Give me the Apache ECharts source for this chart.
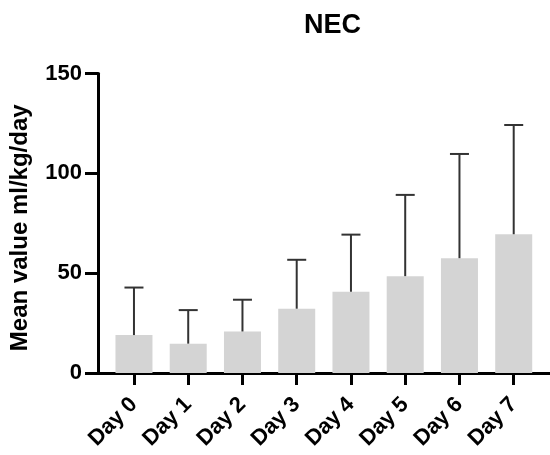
<!DOCTYPE html>
<html>
<head>
<meta charset="utf-8">
<script src="https://cdn.jsdelivr.net/npm/echarts@6/dist/echarts.min.js"></script>
<style>
  html, body { margin: 0; padding: 0; background: #fff; }
  #chart { width: 550px; height: 455px; }
</style>
</head>
<body>
<div id="chart"></div>
<script>
// Mean daily volume (ml/kg/day) with upper SD, days 0-7
const days = ['Day 0', 'Day 1', 'Day 2', 'Day 3', 'Day 4', 'Day 5', 'Day 6', 'Day 7'];
const meanValues = [19, 14.7, 20.8, 32.2, 40.7, 48.5, 57.5, 69.5];
const sdValues = [23.8, 16.8, 15.9, 24.5, 28.6, 40.7, 52.2, 54.7];
const yTicks = [0, 50, 100, 150];

const FONT = '"Liberation Sans", Arial, sans-serif';
const dayIndex = days.map((d, i) => i);

const chart = echarts.init(document.getElementById('chart'), null, { renderer: 'canvas' });

chart.setOption({
  animation: false,
  backgroundColor: '#ffffff',
  title: {
    text: 'NEC',
    left: 299,
    top: 7,
    textStyle: { fontFamily: FONT, fontSize: 27, fontWeight: 'bold', color: '#000' }
  },
  grid: { left: 97.5, right: 0, top: 73.5, bottom: 82 },
  xAxis: {
    type: 'value',
    min: -0.663,
    max: 7.669,
    splitLine: { show: false },
    axisLine: { show: true, onZero: false, lineStyle: { color: '#000', width: 3 } },
    axisTick: { show: true, customValues: dayIndex, length: 12, lineStyle: { color: '#000', width: 3 } },
    axisLabel: {
      customValues: dayIndex,
      rotate: 45,
      margin: 28,
      fontFamily: FONT,
      fontSize: 22,
      fontWeight: 'bold',
      color: '#000',
      formatter: v => days[v]
    }
  },
  yAxis: {
    type: 'value',
    min: yTicks[0],
    max: yTicks[yTicks.length - 1],
    interval: yTicks[1] - yTicks[0],
    name: 'Mean value ml/kg/day',
    nameLocation: 'middle',
    nameGap: 66,
    nameTextStyle: { fontFamily: FONT, fontSize: 24, fontWeight: 'bold', color: '#000', padding: [0, 9, 0, 0] },
    splitLine: { show: false },
    axisLine: { show: true, onZero: false, lineStyle: { color: '#000', width: 3 } },
    axisTick: { show: true, length: 13, lineStyle: { color: '#000', width: 3 } },
    axisLabel: { margin: 16, fontFamily: FONT, fontSize: 22, fontWeight: 'bold', color: '#000' }
  },
  series: [
    {
      type: 'bar',
      barWidth: 37,
      itemStyle: { color: '#d4d4d4' },
      data: meanValues.map((v, i) => [i, v]),
      z: 2
    },
    {
      type: 'custom',
      z: 3,
      data: meanValues.map((v, i) => [i, v, sdValues[i]]),
      renderItem: function (params, api) {
        const x = api.value(0);
        const mean = api.value(1);
        const sd = api.value(2);
        const base = api.coord([x, mean]);
        const top = api.coord([x, mean + sd]);
        const half = 9.5;
        const style = { stroke: '#333', lineWidth: 2 };
        return {
          type: 'group',
          children: [
            { type: 'line', shape: { x1: base[0], y1: base[1], x2: top[0], y2: top[1] }, style: style },
            { type: 'line', shape: { x1: top[0] - half, y1: top[1], x2: top[0] + half, y2: top[1] }, style: style }
          ]
        };
      }
    }
  ]
});
</script>
</body>
</html>
